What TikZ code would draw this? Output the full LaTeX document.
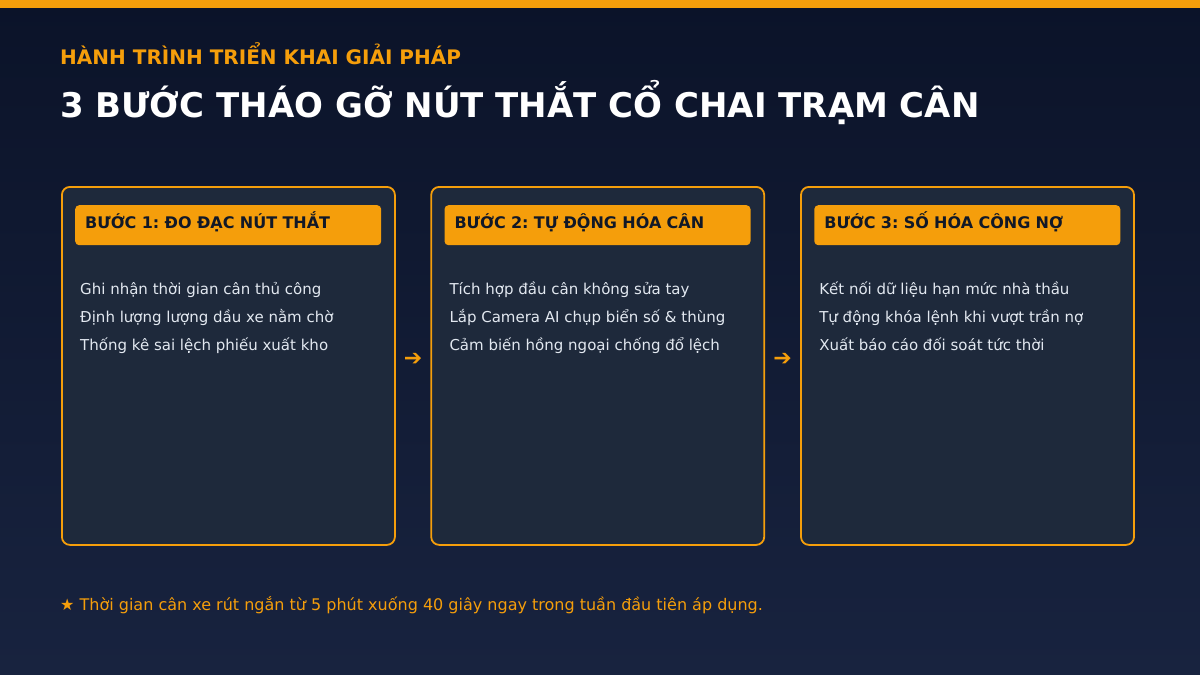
\documentclass[tikz,border=0pt]{standalone}
\usepackage{fontspec}
\setmainfont{DejaVu Sans}
\usetikzlibrary{positioning,calc}
\frenchspacing
\definecolor{accent}{HTML}{F59E0B}
\definecolor{bgtop}{HTML}{0B1329}
\definecolor{bgbot}{HTML}{18233F}
\definecolor{cardbg}{HTML}{1E293B}
\definecolor{body}{HTML}{E2E8F0}
\definecolor{ink}{HTML}{111827}
\begin{document}
\begin{tikzpicture}[x=1pt,y=-1pt,
    card/.style={draw=accent,line width=1.8pt,fill=cardbg,rounded corners=8pt,minimum width=333pt,minimum height=358pt,inner sep=0pt},
    band/.style={fill=accent,rounded corners=4pt,minimum width=306pt,minimum height=40pt,text width=286pt,align=left,inner xsep=10pt,inner ysep=0pt,text height=11pt,text depth=5pt,font=\bfseries\fontsize{16}{18}\selectfont,text=ink},
    item/.style={text=body,font=\fontsize{15}{18}\selectfont,inner sep=0pt,anchor=base west},
    arr/.style={text=accent,font=\bfseries\fontsize{22}{24}\selectfont,inner sep=0pt}]
    \useasboundingbox (0,0) rectangle (1200,675);
    \shade[top color=bgtop,bottom color=bgbot] (0,0) rectangle (1200,675);
    \fill[accent] (0,0) rectangle (1200,8);
    % heading
    \node[anchor=base west,inner sep=0pt,text=accent,font=\bfseries\fontsize{20}{24}\selectfont] (kicker) at (60,64.5) {HÀNH TRÌNH TRIỂN KHAI GIẢI PHÁP};
    \node[anchor=base west,inner sep=0pt,text=white,font=\bfseries\fontsize{34}{40}\selectfont] (title) at (60,117.5) {3 BƯỚC THÁO GỠ NÚT THẮT CỔ CHAI TRẠM CÂN};
    % the three steps
    \node[card,anchor=north west] (c1) at (61,186) {};
    \node[card,right=34.5pt of c1] (c2) {};
    \node[card,right=35pt of c2] (c3) {};
    \node[band,anchor=north west] (h1) at ($(c1.north west)+(14,19)$) {BƯỚC 1: ĐO ĐẠC NÚT THẮT};
    \node[band,anchor=north west] (h2) at ($(c2.north west)+(14,19)$) {BƯỚC 2: TỰ ĐỘNG HÓA CÂN};
    \node[band,anchor=north west] (h3) at ($(c3.north west)+(14,19)$) {BƯỚC 3: SỐ HÓA CÔNG NỢ};
    \foreach \t [count=\i] in {Ghi nhận thời gian cân thủ công,Định lượng lượng dầu xe nằm chờ,Thống kê sai lệch phiếu xuất kho}
        \node[item] (p1-\i) at ($(c1.north west)+(19,80+28*\i)$) {\t};
    \foreach \t [count=\i] in {Tích hợp đầu cân không sửa tay,Lắp Camera AI chụp biển số \& thùng,Cảm biến hồng ngoại chống đổ lệch}
        \node[item] (p2-\i) at ($(c2.north west)+(19,80+28*\i)$) {\t};
    \foreach \t [count=\i] in {Kết nối dữ liệu hạn mức nhà thầu,Tự động khóa lệnh khi vượt trần nợ,Xuất báo cáo đối soát tức thời}
        \node[item] (p3-\i) at ($(c3.north west)+(19,80+28*\i)$) {\t};
    \node[arr] (a12) at ($(c1.east)!.5!(c2.west)+(0,-6)$) {➔};
    \node[arr] (a23) at ($(c2.east)!.5!(c3.west)+(0,-6)$) {➔};
    % footnote
    \node[anchor=base west,inner sep=0pt,text=accent,font=\fontsize{16}{20}\selectfont] (note) at (60,610) {★ Thời gian cân xe rút ngắn từ 5 phút xuống 40 giây ngay trong tuần đầu tiên áp dụng.};
\end{tikzpicture}
\end{document}
